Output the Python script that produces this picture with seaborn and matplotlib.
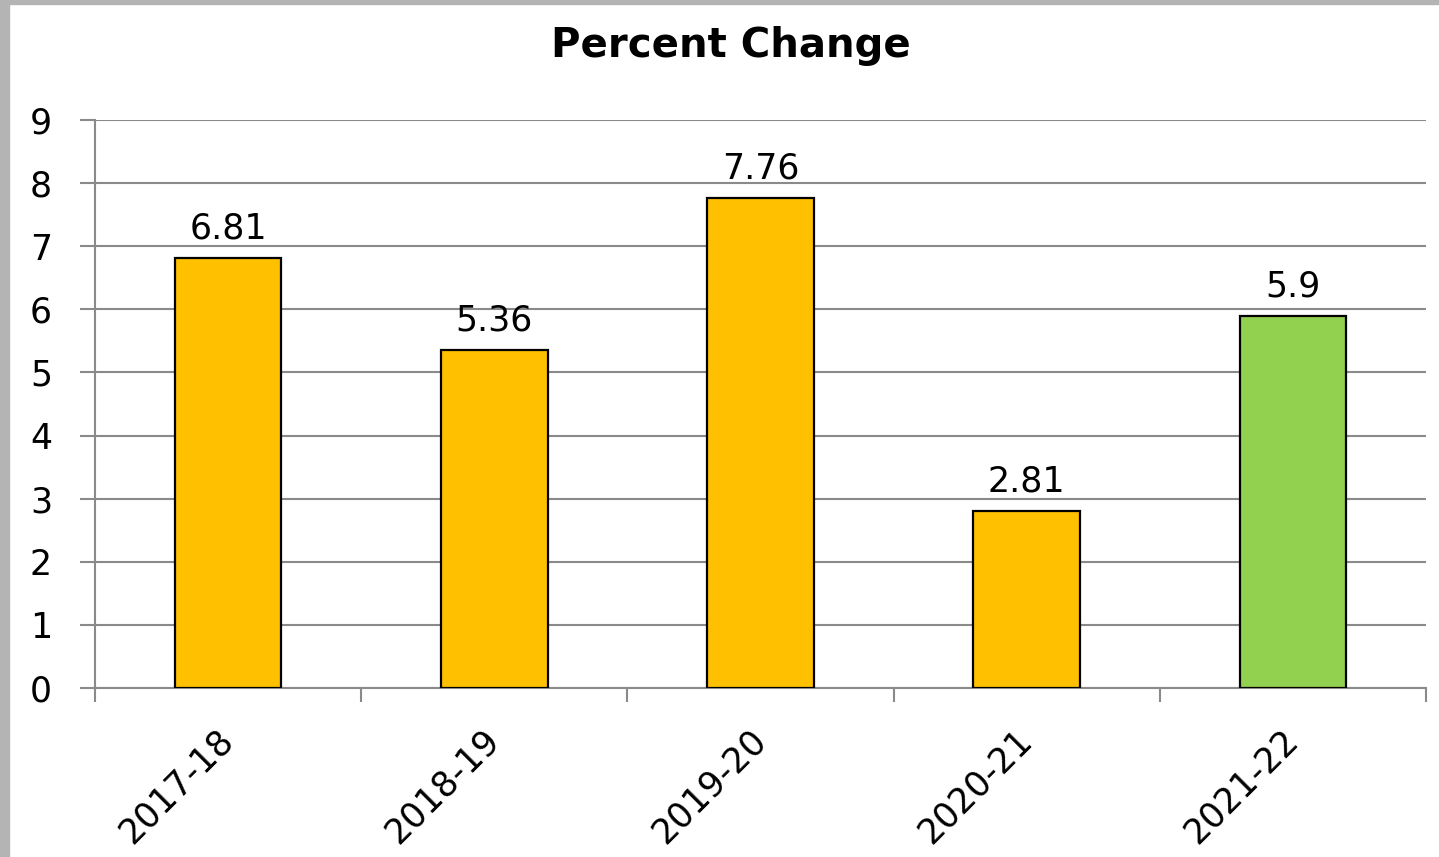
import matplotlib
matplotlib.use("Agg")
import matplotlib.pyplot as plt
import seaborn as sb
from matplotlib.patches import Rectangle

# data
perioade = ["2017-18", "2018-19", "2019-20", "2020-21", "2021-22"]
valori = [6.81, 5.36, 7.76, 2.81, 5.9]
etichete = ["6.81", "5.36", "7.76", "2.81", "5.9"]
culori = ["#FFC000", "#FFC000", "#FFC000", "#FFC000", "#92D050"]
titlu = "Percent Change"

sb.set_style("white")
plt.rcParams["font.family"] = ["DejaVu Sans"]
plt.rcParams["text.color"] = "black"
plt.rcParams["xtick.color"] = "black"
plt.rcParams["ytick.color"] = "black"

fig = plt.figure(figsize=(14.39, 8.57), dpi=100)
fig.patch.set_facecolor("white")
# gray frame on left and top edges
fig.patches.append(Rectangle((0, 0), 9 / 1439, 1, transform=fig.transFigure,
                             color="#b4b4b4", zorder=0))
fig.patches.append(Rectangle((0, 1 - 4 / 857), 1, 4 / 857, transform=fig.transFigure,
                             color="#b4b4b4", zorder=0))

ax = fig.add_axes([95 / 1439, (857 - 688) / 857, (1426 - 95) / 1439, 568 / 857])

sb.barplot(x=perioade, y=valori, hue=perioade, palette=culori, width=0.4,
           saturation=1, edgecolor="black", linewidth=1.6, legend=False,
           ax=ax, zorder=3)

for cont, et in zip(ax.containers, etichete):
    ax.bar_label(cont, labels=[et], padding=9, fontsize=25, color="black")

ax.set_ylim(0, 9)
ax.set_xlim(-0.5, 4.5)
ax.set_yticks(range(0, 10))
ax.yaxis.grid(True, color="#8a8a8a", linewidth=1.5, zorder=0)
ax.set_axisbelow(True)

for s in ["top", "right"]:
    ax.spines[s].set_visible(False)
for s in ["left", "bottom"]:
    ax.spines[s].set_color("#8a8a8a")
    ax.spines[s].set_linewidth(1.5)

ax.tick_params(axis="y", which="major", left=True, length=11, width=1.5,
               color="#8a8a8a", labelcolor="black", labelsize=25, pad=20)
ax.set_xticks([-0.5, 0.5, 1.5, 2.5, 3.5, 4.5], minor=True)
ax.tick_params(axis="x", which="minor", bottom=True, length=10, width=1.5,
               color="#8a8a8a")
ax.tick_params(axis="x", which="major", bottom=False, labelcolor="black",
               labelsize=25, pad=30)
plt.setp(ax.get_xticklabels(), rotation=45, ha="right", va="center",
         rotation_mode="anchor")

fig.text(731 / 1439, (857 - 57) / 857, titlu, fontsize=29, fontweight="bold",
         ha="center", va="baseline", color="black")

fig.savefig("out.png", dpi=100)
